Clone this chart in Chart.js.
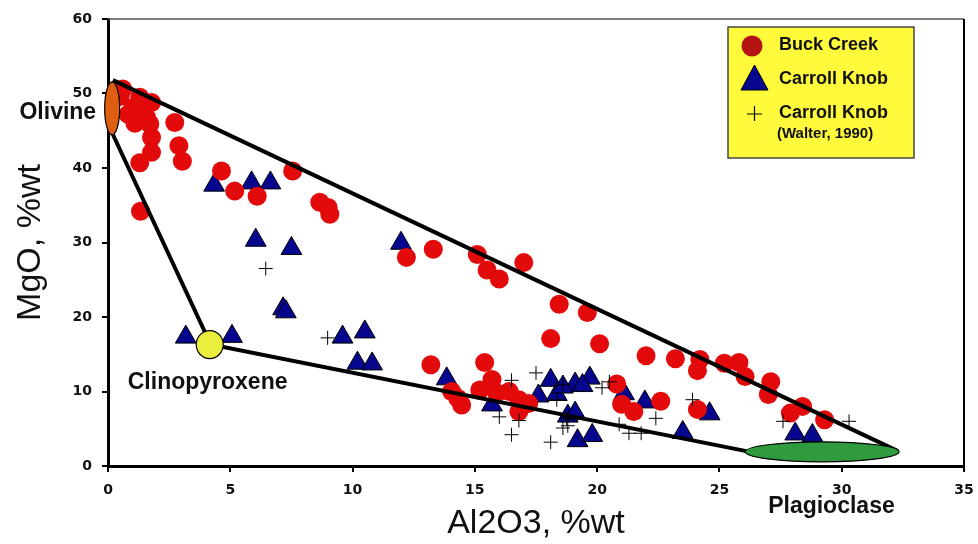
<!DOCTYPE html>
<html>
<head>
<meta charset="utf-8">
<title>MgO vs Al2O3</title>
<script src="https://cdn.jsdelivr.net/npm/chart.js"></script>
<style>
    body { margin: 0; background: #fff; }
    #wrap { width: 978px; height: 544px; }
</style>
</head>
<body>
<div id="wrap"><canvas id="mgoChart" width="978" height="544"></canvas></div>
<script>
// Buck Creek
const buckCreekX = [0.6, 0.5, 1.3, 1.78, 1.02, 0.82, 1.57, 1.71, 1.78, 1.78, 1.3, 2.73, 2.9, 3.04, 1.33,
    4.64, 5.18, 6.1, 7.55, 8.66, 9.0, 9.07, 12.2, 13.3, 15.1, 15.5, 16.0, 17.0, 18.45, 19.6, 18.1, 20.1,
    13.2, 15.4, 22.0, 23.2, 24.2, 24.1, 25.2, 25.8, 26.05, 27.1, 27.0, 27.9, 28.4, 29.3, 22.6, 24.1,
    20.8, 21.0, 21.5, 14.05, 14.46, 14.3, 15.2, 15.7, 15.9, 16.4, 16.8, 17.2, 16.8, 1.1, 1.5];
const buckCreekY = [50.6, 49.6, 49.5, 48.8, 48.1, 47.2, 46.8, 45.9, 44.1, 42.1, 40.7, 46.1, 43.0, 40.9, 34.2,
    39.6, 36.9, 36.2, 39.6, 35.4, 34.7, 33.8, 28.0, 29.1, 28.4, 26.3, 25.1, 27.3, 21.7, 20.6, 17.1, 16.4,
    13.6, 13.9, 14.8, 14.4, 14.3, 12.8, 13.8, 13.9, 12.0, 11.3, 9.6, 7.1, 8.0, 6.2, 8.7, 7.6,
    11.0, 8.3, 7.3, 10.0, 8.2, 9.1, 10.2, 11.6, 9.8, 10.0, 8.9, 8.4, 7.3, 46.0, 47.8];

// Carroll Knob
const carrollX = [4.34, 5.87, 6.64, 6.04, 7.5, 7.16, 7.27, 11.98, 3.18, 5.07, 9.59, 10.5, 10.2, 10.8,
    13.85, 15.7, 18.1, 17.6, 18.35, 19.1, 19.7, 19.4, 18.6, 18.8, 19.1, 19.2, 19.8, 21.1, 21.95, 23.5,
    24.6, 28.1, 28.8];
const carrollY = [37.7, 38.0, 38.0, 30.3, 29.2, 21.1, 20.7, 29.9, 17.3, 17.4, 17.3, 18.0, 13.8, 13.7,
    11.7, 8.2, 11.5, 9.4, 9.6, 11.0, 11.8, 10.8, 10.6, 6.7, 7.1, 3.4, 4.1, 9.7, 8.6, 4.5,
    7.0, 4.3, 4.1];

// Carroll Knob (Walter, 1990)
const walterX = [6.45, 8.98, 17.5, 16.5, 16.0, 16.5, 16.8, 18.1, 18.6, 18.8, 18.75, 18.35, 18.6, 20.2,
    20.5, 20.9, 21.3, 21.8, 22.4, 23.9, 27.6, 30.3];
const walterY = [26.5, 17.2, 12.5, 11.5, 6.6, 4.2, 6.1, 3.2, 5.1, 5.4, 6.4, 8.9, 10.9, 10.5,
    11.3, 5.6, 4.4, 4.4, 6.4, 8.9, 6.0, 6.0];

// end members and the mixing lines between them
const endMemberNames = ['Olivine', 'Clinopyroxene', 'Plagioclase'];
const endMemberX = [0.17, 4.16, 29.2];
const endMemberY = [48.0, 16.3, 1.9];
const upperLineX = [0.2, 32.3];
const upperLineY = [51.8, 2.0];
const lowerLineX = [0.2, 4.2, 26.1];
const lowerLineY = [44.5, 16.3, 2.0];

const xTicks = [0, 5, 10, 15, 20, 25, 30, 35];
const yTicks = [0, 10, 20, 30, 40, 50, 60];

const COLORS = {
    red: '#E20A0A',
    redLegend: '#B51414',
    navy: '#06068E',
    olivine: '#DE5E12',
    cpx: '#E9EF3C',
    plag: '#2F9B3E',
    legendBg: '#FFFB3C',
    frameTop: '#555555'
};

function toPoints(xs, ys) {
    return xs.map((x, i) => ({ x: x, y: ys[i] }));
}

// ellipses + names for the three minerals (pixel sizes)
const endMembersPlugin = {
    id: 'endMembers',
    afterDatasetsDraw(chart) {
        const ctx = chart.ctx;
        const sx = chart.scales.x, sy = chart.scales.y;
        const shapes = [
            { rx: 7.5, ry: 26.5, fill: COLORS.olivine, tx: -16, ty: 4, align: 'right' },
            { rx: 13.5, ry: 14, fill: COLORS.cpx, tx: -82, ty: 38, align: 'left' },
            { rx: 77, ry: 10, fill: COLORS.plag, tx: -54, ty: 55, align: 'left' }
        ];
        ctx.save();
        endMemberNames.forEach((name, i) => {
            const cx = sx.getPixelForValue(endMemberX[i]);
            const cy = sy.getPixelForValue(endMemberY[i]);
            const s = shapes[i];
            ctx.beginPath();
            ctx.ellipse(cx, cy, s.rx, s.ry, 0, 0, Math.PI * 2);
            ctx.fillStyle = s.fill;
            ctx.fill();
            ctx.lineWidth = 1.2;
            ctx.strokeStyle = '#000';
            ctx.stroke();

            ctx.fillStyle = '#111';
            ctx.font = 'bold 23px "Liberation Sans", Arial, sans-serif';
            ctx.textAlign = s.align;
            ctx.textBaseline = 'middle';
            ctx.fillText(name, cx + s.tx, cy + s.ty);
        });
        ctx.restore();
    }
};

// grey top edge, black right edge
const framePlugin = {
    id: 'frame',
    afterDraw(chart) {
        const { left, right, top, bottom } = chart.chartArea;
        const ctx = chart.ctx;
        ctx.save();
        ctx.strokeStyle = COLORS.frameTop;
        ctx.lineWidth = 1.5;
        ctx.beginPath();
        ctx.moveTo(left, top);
        ctx.lineTo(right, top);
        ctx.stroke();
        ctx.strokeStyle = '#000';
        ctx.lineWidth = 2;
        ctx.beginPath();
        ctx.moveTo(right, top);
        ctx.lineTo(right, bottom);
        ctx.stroke();
        ctx.restore();
    }
};

const legendPlugin = {
    id: 'yellowLegend',
    afterDraw(chart) {
        const ctx = chart.ctx;
        const bx = 728, by = 27, bw = 186, bh = 131;
        ctx.save();
        ctx.fillStyle = COLORS.legendBg;
        ctx.fillRect(bx, by, bw, bh);
        ctx.strokeStyle = '#444';
        ctx.lineWidth = 1.5;
        ctx.strokeRect(bx, by, bw, bh);

        // circle
        ctx.beginPath();
        ctx.arc(752, 46, 10.5, 0, Math.PI * 2);
        ctx.fillStyle = COLORS.redLegend;
        ctx.fill();
        // triangle
        ctx.beginPath();
        ctx.moveTo(754.5, 65);
        ctx.lineTo(768, 90);
        ctx.lineTo(741, 90);
        ctx.closePath();
        ctx.fillStyle = COLORS.navy;
        ctx.fill();
        ctx.strokeStyle = '#000';
        ctx.lineWidth = 1;
        ctx.stroke();
        // cross
        ctx.beginPath();
        ctx.moveTo(747, 114);
        ctx.lineTo(762, 114);
        ctx.moveTo(754.5, 106);
        ctx.lineTo(754.5, 121);
        ctx.lineWidth = 1.2;
        ctx.stroke();

        ctx.fillStyle = '#111';
        ctx.textAlign = 'left';
        ctx.textBaseline = 'middle';
        ctx.font = 'bold 18px "Liberation Sans", Arial, sans-serif';
        ctx.fillText('Buck Creek', 779, 45);
        ctx.fillText('Carroll Knob', 779, 79);
        ctx.fillText('Carroll Knob', 779, 113);
        ctx.font = 'bold 15px "Liberation Sans", Arial, sans-serif';
        ctx.fillText('(Walter, 1990)', 777, 134);
        ctx.restore();
    }
};

const tickFont = { family: '"DejaVu Sans", sans-serif', size: 14, weight: 'bold' };
const titleFont = { family: '"Liberation Sans", Arial, sans-serif', size: 34 };

const ctx = document.getElementById('mgoChart').getContext('2d');
new Chart(ctx, {
    type: 'scatter',
    data: {
        datasets: [
            {
                label: 'Olivine - Plagioclase',
                data: toPoints(upperLineX, upperLineY),
                showLine: true,
                borderColor: '#000',
                borderWidth: 4,
                pointRadius: 0,
                order: 1
            },
            {
                label: 'Olivine - Clinopyroxene - Plagioclase',
                data: toPoints(lowerLineX, lowerLineY),
                showLine: true,
                borderColor: '#000',
                borderWidth: 4,
                pointRadius: 0,
                order: 1
            },
            {
                label: 'Carroll Knob (Walter, 1990)',
                data: toPoints(walterX, walterY),
                pointStyle: 'cross',
                pointRadius: 7,
                borderColor: '#000',
                borderWidth: 1,
                order: 2
            },
            {
                label: 'Buck Creek',
                data: toPoints(buckCreekX, buckCreekY),
                pointStyle: 'circle',
                pointRadius: 9.5,
                backgroundColor: COLORS.red,
                borderWidth: 0,
                order: 3
            },
            {
                label: 'Carroll Knob',
                data: toPoints(carrollX, carrollY),
                pointStyle: 'triangle',
                pointRadius: 12,
                backgroundColor: COLORS.navy,
                borderColor: '#000',
                borderWidth: 1,
                order: 4
            }
        ]
    },
    options: {
        responsive: false,
        animation: false,
        events: [],
        layout: { padding: { top: 19, right: 14, left: 0, bottom: 0 } },
        plugins: { legend: { display: false }, tooltip: { enabled: false } },
        scales: {
            x: {
                type: 'linear',
                min: 0,
                max: 35,
                afterBuildTicks: scale => { scale.ticks = xTicks.map(v => ({ value: v })); },
                afterFit: scale => {
                    scale.height = 78;
                    // "35" may hang past the plot edge, like in the original
                    scale.paddingLeft = 0;
                    scale.paddingRight = 0;
                },
                ticks: { color: '#111', font: tickFont, padding: 10 },
                grid: { drawOnChartArea: false, color: '#000', lineWidth: 2, tickLength: 6 },
                border: { color: '#000', width: 3 },
                title: { display: true, text: 'Al2O3, %wt', color: '#111', font: titleFont, padding: { top: 0, bottom: 0 } }
            },
            y: {
                type: 'linear',
                min: 0,
                max: 60,
                afterBuildTicks: scale => { scale.ticks = yTicks.map(v => ({ value: v })); },
                afterFit: scale => {
                    scale.width = 108;
                    scale.paddingTop = 0;
                    scale.paddingBottom = 0;
                },
                ticks: { color: '#111', font: tickFont, padding: 10 },
                grid: { drawOnChartArea: false, color: '#000', lineWidth: 2, tickLength: 6 },
                border: { color: '#000', width: 3 },
                title: { display: true, text: 'MgO, %wt', color: '#111', font: titleFont, padding: { top: 10, bottom: 0 } }
            }
        }
    },
    plugins: [endMembersPlugin, framePlugin, legendPlugin]
});
</script>
</body>
</html>
